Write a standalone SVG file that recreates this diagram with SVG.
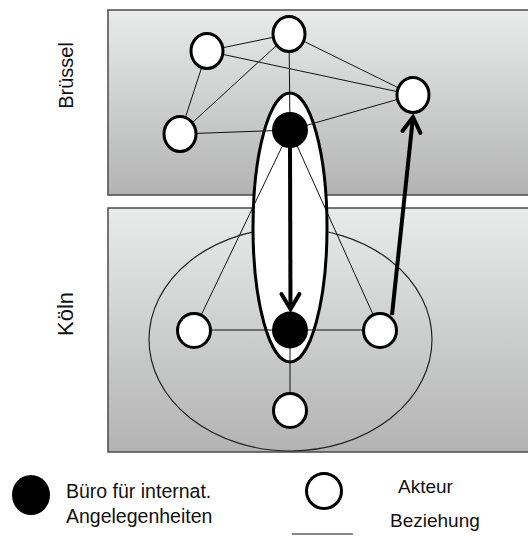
<svg xmlns="http://www.w3.org/2000/svg" width="528" height="536" viewBox="0 0 528 536">
<style>
.lbl{font-family:"Liberation Sans",Arial,sans-serif;fill:#111}
.box{stroke:#4a4a4a;stroke-width:1.5}
.act{fill:#fff;stroke:#000;stroke-width:3}
.buero{fill:#000}
.rel{stroke:#111;stroke-width:1;fill:none}
.thick{stroke:#000;stroke-width:4;fill:none}
</style>
<defs>
<linearGradient id="g1" x1="0" y1="0" x2="0" y2="1">
<stop offset="0" stop-color="#e9eaea"/>
<stop offset="1" stop-color="#b3b3b3"/>
</linearGradient>
<marker id="chev" markerUnits="userSpaceOnUse" markerWidth="40" markerHeight="40" viewBox="-20 -20 40 40" refX="0" refY="0" orient="auto" overflow="visible">
<path d="M-15,-9 L0,0 L-15,9" fill="none" stroke="#000" stroke-width="4" stroke-linejoin="miter" stroke-linecap="round"/>
</marker>
</defs>
<rect width="528" height="536" fill="#fff"/>
<g id="region-bruessel">
<rect class="box" x="108" y="10" width="425" height="185" fill="url(#g1)"/>
<text class="lbl" font-size="20" text-anchor="middle" transform="translate(73,75.5) rotate(-90)">Brüssel</text>
</g>
<g id="region-koeln">
<rect class="box" x="108" y="208" width="425" height="244" fill="url(#g1)"/>
<text class="lbl" font-size="22" text-anchor="middle" transform="translate(73,314) rotate(-90)">Köln</text>
<ellipse cx="290.5" cy="339.5" rx="141.5" ry="111.5" fill="none" stroke="#222" stroke-width="1.2"/>
</g>
<g id="buero-group">
<ellipse cx="290" cy="227.5" rx="37" ry="134.5" fill="#fff" stroke="#000" stroke-width="3"/>
</g>
<g id="connectors">
<line class="rel" x1="207" y1="51" x2="289" y2="34"/>
<line class="rel" x1="207" y1="51" x2="413" y2="95"/>
<line class="rel" x1="289" y1="34" x2="413" y2="95"/>
<line class="rel" x1="207" y1="51" x2="180" y2="134"/>
<line class="rel" x1="289" y1="34" x2="180" y2="134"/>
<line class="rel" x1="289" y1="34" x2="290" y2="130"/>
<line class="rel" x1="180" y1="134" x2="290" y2="130"/>
<line class="rel" x1="290" y1="130" x2="413" y2="95"/>
<line class="rel" x1="290" y1="130" x2="194" y2="330"/>
<line class="rel" x1="290" y1="130" x2="380" y2="330"/>
<line class="rel" x1="194" y1="330" x2="380" y2="330"/>
<line class="rel" x1="290" y1="330" x2="290" y2="410"/>
<line class="thick" x1="290" y1="148" x2="290.5" y2="309" marker-end="url(#chev)"/>
<line class="thick" x1="392" y1="315" x2="413" y2="117" marker-end="url(#chev)"/>
</g>
<g id="node-b1"><ellipse class="act" cx="207" cy="51" rx="16" ry="17.5"/></g>
<g id="node-b2"><ellipse class="act" cx="289" cy="34" rx="16" ry="17.5"/></g>
<g id="node-b3"><ellipse class="act" cx="180" cy="134" rx="16" ry="17.5"/></g>
<g id="node-b4"><ellipse class="act" cx="413" cy="95" rx="16" ry="17.5"/></g>
<g id="node-buero-bruessel"><ellipse class="buero" cx="290" cy="130" rx="18" ry="18"/></g>
<g id="node-k1"><ellipse class="act" cx="194" cy="330.5" rx="16.5" ry="17"/></g>
<g id="node-buero-koeln"><ellipse class="buero" cx="290" cy="330" rx="18" ry="18.5"/></g>
<g id="node-k2"><ellipse class="act" cx="380" cy="330.5" rx="16.5" ry="17"/></g>
<g id="node-k3"><ellipse class="act" cx="290" cy="410.5" rx="16.5" ry="17"/></g>
<g id="legend">
<ellipse cx="31" cy="495" rx="19" ry="20" fill="#000"/>
<text class="lbl" font-size="19.5" x="66" y="498">Büro für internat.</text>
<text class="lbl" font-size="19.5" x="66" y="523">Angelegenheiten</text>
<ellipse cx="324" cy="491" rx="17.5" ry="17.5" fill="#fff" stroke="#000" stroke-width="3"/>
<text class="lbl" font-size="19" x="398" y="493">Akteur</text>
<line x1="292" y1="534" x2="353" y2="534" stroke="#111" stroke-width="1"/>
<text class="lbl" font-size="19" x="390" y="527">Beziehung</text>
</g>
</svg>
